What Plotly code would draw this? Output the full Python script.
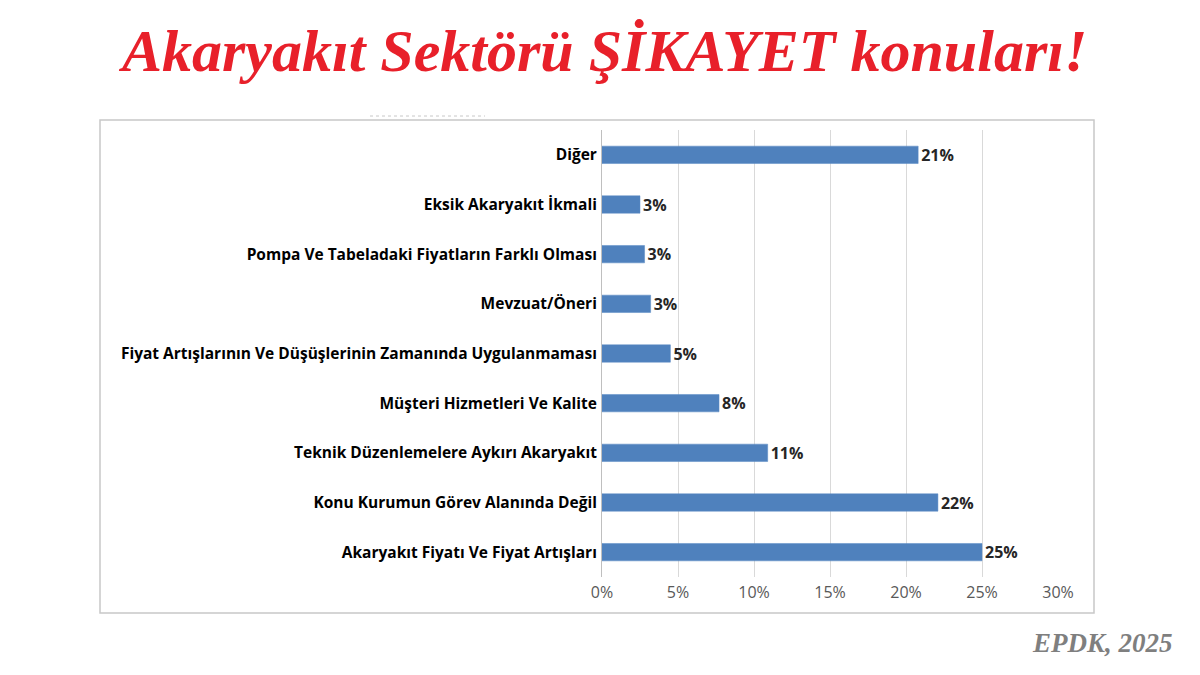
import plotly.graph_objects as go

# The page body has an 8px margin, so the figure is sized to fill the
# 1200x675 window exactly and positions are given in window pixels.
OFF = 8
W, H = 1200 - 2 * OFF, 675 - 2 * OFF

categories = [
    "Diğer",
    "Eksik Akaryakıt İkmali",
    "Pompa Ve Tabeladaki Fiyatların Farklı Olması",
    "Mevzuat/Öneri",
    "Fiyat Artışlarının Ve Düşüşlerinin Zamanında Uygulanmaması",
    "Müşteri Hizmetleri Ve Kalite",
    "Teknik Düzenlemelere Aykırı Akaryakıt",
    "Konu Kurumun Görev Alanında Değil",
    "Akaryakıt Fiyatı Ve Fiyat Artışları",
]
values = [20.8, 2.5, 2.8, 3.2, 4.5, 7.7, 10.9, 22.1, 25.0]
value_labels = ["21%", "3%", "3%", "3%", "5%", "8%", "11%", "22%", "25%"]
tick_vals = [0, 5, 10, 15, 20, 25, 30]
tick_text = ["0%", "5%", "10%", "15%", "20%", "25%", "30%"]

title_text = "Akaryakıt Sektörü ŞİKAYET konuları!"
source_text = "EPDK, 2025"


def px(x):
    return (x - OFF) / W


def py(y):
    return 1 - (y - OFF) / H


# window-pixel layout
x0, x1 = 602, 1058
y_top, y_bot = 130, 577

fig = go.Figure()
fig.add_trace(go.Bar(
    y=categories, x=values, orientation="h",
    marker=dict(color="#4F81BD", line=dict(color="#5B8BC4", width=0.5)),
    width=0.35,
    text=value_labels, textposition="outside",
    constraintext="none",
    textfont=dict(family="Open Sans", size=16, color="#262626", weight="bold"),
    cliponaxis=False,
    hoverinfo="skip",
))

fig.update_layout(
    width=W, height=H,
    margin=dict(l=0, r=0, t=0, b=0, pad=0),
    paper_bgcolor="white", plot_bgcolor="white",
    showlegend=False,
    uniformtext=dict(mode=False),
    xaxis=dict(
        domain=[px(x0), px(x1)], range=[0, 30],
        tickvals=tick_vals, ticktext=tick_text,
        showgrid=True, gridcolor="#D9D9D9", gridwidth=1,
        zeroline=False, showline=False,
        tickfont=dict(family="Open Sans", size=16, color="#595959"),
        ticks="", ticklabelstandoff=4,
        automargin=False,
        fixedrange=True,
    ),
    yaxis=dict(
        domain=[py(y_bot), py(y_top)],
        autorange="reversed",
        showline=True, linecolor="#BFBFBF", linewidth=1,
        showgrid=False, ticks="",
        tickfont=dict(family="Open Sans", size=15.5, color="#000000", weight="bold"),
        ticklabelstandoff=1,
        automargin=False,
        fixedrange=True,
    ),
    shapes=[
        dict(type="rect", xref="paper", yref="paper",
             x0=px(100), x1=px(1094), y0=py(613), y1=py(120),
             line=dict(color="#C8C8C8", width=1.5), fillcolor="rgba(0,0,0,0)",
             layer="below"),
        dict(type="line", xref="paper", yref="paper",
             x0=px(370), x1=px(485), y0=py(116), y1=py(116),
             line=dict(color="#C8C8C8", width=1, dash="dot")),
    ],
    annotations=[
        dict(text=title_text, xref="paper", yref="paper",
             x=px(602), y=py(51), xanchor="center", yanchor="middle",
             showarrow=False,
             font=dict(family="Liberation Serif", size=60, color="#E8202A",
                       weight="bold", style="italic")),
        dict(text=source_text, xref="paper", yref="paper",
             x=px(1175), y=py(643), xanchor="right", yanchor="middle",
             showarrow=False,
             font=dict(family="Liberation Serif", size=27, color="#7F7F7F",
                       weight="bold", style="italic")),
    ],
)

fig.write_html("out.html")
